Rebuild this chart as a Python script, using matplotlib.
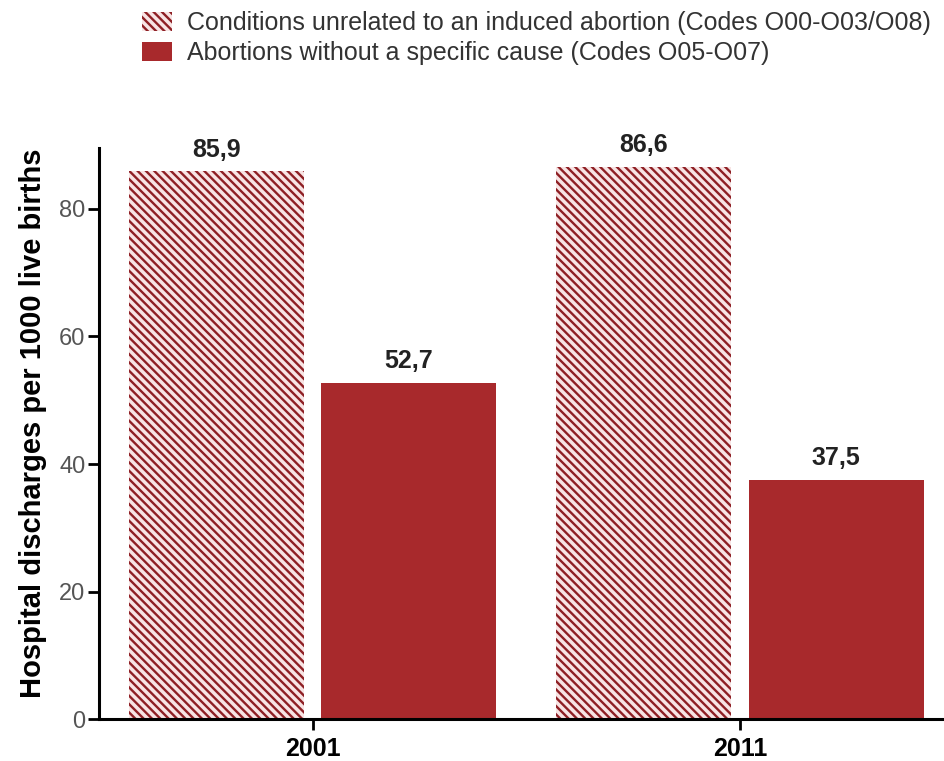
import matplotlib.pyplot as plt
import numpy as np

plt.rcParams['font.family'] = ['Liberation Sans', 'DejaVu Sans']
plt.rcParams['hatch.linewidth'] = 1.7
plt.rcParams['hatch.color'] = '#8e1f24'

years = ['2001', '2011']
unrelated = [85.9, 86.6]
no_cause = [52.7, 37.5]
labels = ['Conditions unrelated to an induced abortion (Codes O00-O03/O08)',
          'Abortions without a specific cause (Codes O05-O07)']

solid_red = '#a8292c'
hatch_face = '#f8e4e4'

fig = plt.figure(figsize=(9.45, 7.61), dpi=100)
ax = fig.add_axes([0.105, 0.055, 0.895, 0.751])

x = np.arange(len(years))
w = 0.41
off = 0.225

b1 = ax.bar(x - off, unrelated, w, color=hatch_face, hatch='\\\\\\\\',
            edgecolor='#8e1f24', linewidth=0, label=labels[0])
b2 = ax.bar(x + off, no_cause, w, color=solid_red, linewidth=0, label=labels[1])

for bars, vals in ((b1, unrelated), (b2, no_cause)):
    for rect, v in zip(bars, vals):
        ax.annotate(f'{v:.1f}'.replace('.', ','),
                    (rect.get_x() + rect.get_width() / 2, v),
                    xytext=(0, 7), textcoords='offset points',
                    ha='center', va='bottom', fontsize=18, fontweight='bold',
                    color='#222222')

ax.set_xlim(-0.5, 1.48)
ax.set_ylim(0, 89.6)
ax.set_yticks([0, 20, 40, 60, 80])
ax.set_xticks(x)
ax.set_xticklabels(years, fontsize=18, fontweight='bold')
ax.tick_params(axis='y', labelsize=17, labelcolor='#555555', width=2, length=8, pad=2)
ax.tick_params(axis='x', width=2, length=8, pad=5)
ax.set_ylabel('Hospital discharges per 1000 live births', fontsize=21,
              fontweight='bold')
ax.yaxis.set_label_coords(-0.062, 0.518)

for s in ('top', 'right'):
    ax.spines[s].set_visible(False)
for s in ('left', 'bottom'):
    ax.spines[s].set_linewidth(2.2)

fig.legend(handles=[b1, b2], loc='upper left',
           bbox_to_anchor=(142 / 945, 1 - 11 / 761),
           frameon=False, fontsize=18, handlelength=1.2, handleheight=0.8,
           handletextpad=0.6, labelspacing=0.25, borderpad=0,
           borderaxespad=0, labelcolor='#333333')

fig.savefig('out.png', dpi=100)
